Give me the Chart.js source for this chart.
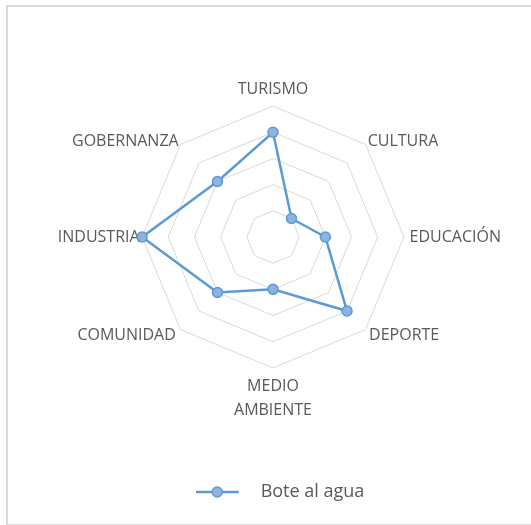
<!DOCTYPE html>
<html>
<head>
<meta charset="utf-8">
<script src="https://cdn.jsdelivr.net/npm/chart.js@4/dist/chart.umd.min.js"></script>
<style>
  html, body { margin: 0; padding: 0; background: #fff; }
  .frame {
    position: absolute; left: 6px; top: 5px;
    width: 560px; height: 517px;
    border: 2px solid #dadada;
  }
  #chart { position: absolute; left: 0; top: 0; }
</style>
</head>
<body>
<div class="frame"></div>
<canvas id="chart" width="531" height="525"></canvas>
<script>
// Data
const categories = ['TURISMO', 'CULTURA', 'EDUCACIÓN', 'DEPORTE', ['MEDIO', 'AMBIENTE'], 'COMUNIDAD', 'INDUSTRIA', 'GOBERNANZA'];
const seriesName = 'Bote al agua';
const seriesValues = [4, 1, 2, 4, 2, 3, 5, 3];
const scaleMin = 0;
const scaleMax = 5;
const scaleStep = 1;

// Style
const BLUE = '#5b9bd5';
const POINT_FILL = '#8fb2de';
const TEXT = '#595959';
const GRID = '#d9d9d9';
const FONT = "'Open Sans', sans-serif";

// per-label gap to the outer ring and line height, to sit the labels like excel does
const labelGaps = [-6.3, 3, 5.7, 5, 7, 6.5, 2.5, 2.5];
const labelLineHeights = ['46px', '2px', '19px', '5px', '23.5px', '2px', '19px', '2px'];

// legend icon: line with a marker
function makeLegendIcon() {
    const c = document.createElement('canvas');
    c.width = 56;
    c.height = 14;
    const ctx = c.getContext('2d');
    ctx.strokeStyle = BLUE;
    ctx.lineWidth = 2.5;
    ctx.beginPath();
    ctx.moveTo(0, 7);
    ctx.lineTo(43, 7);
    ctx.stroke();
    ctx.beginPath();
    ctx.arc(21.5, 7, 5, 0, Math.PI * 2);
    ctx.fillStyle = POINT_FILL;
    ctx.fill();
    ctx.lineWidth = 1.5;
    ctx.stroke();
    return c;
}
const legendIcon = makeLegendIcon();

new Chart(document.getElementById('chart'), {
    type: 'radar',
    data: {
        labels: categories,
        datasets: [{
            label: seriesName,
            data: seriesValues,
            borderColor: BLUE,
            borderWidth: 2.5,
            backgroundColor: POINT_FILL,
            fill: false,
            tension: 0,
            pointRadius: 5,
            pointHoverRadius: 5,
            pointBorderWidth: 1.5,
            pointBackgroundColor: POINT_FILL,
            pointBorderColor: BLUE
        }]
    },
    options: {
        responsive: false,
        animation: false,
        layout: { padding: { top: 17, bottom: 14, left: 52, right: 23 } },
        plugins: {
            tooltip: { enabled: false },
            legend: {
                position: 'bottom',
                labels: {
                    usePointStyle: true,
                    pointStyleWidth: 56,
                    padding: 10,
                    color: TEXT,
                    font: { family: FONT, size: 18 },
                    generateLabels: (chart) =>
                        Chart.defaults.plugins.legend.labels.generateLabels(chart)
                            .map(l => ({ ...l, pointStyle: legendIcon }))
                }
            }
        },
        scales: {
            r: {
                min: scaleMin,
                max: scaleMax,
                ticks: { stepSize: scaleStep, display: false },
                grid: { color: GRID, lineWidth: 1 },
                angleLines: { display: false },
                pointLabels: {
                    color: TEXT,
                    font: (ctx) => ({ family: FONT, size: 16, lineHeight: labelLineHeights[ctx.index] }),
                    padding: (ctx) => labelGaps[ctx.index]
                }
            }
        }
    }
});
</script>
</body>
</html>
